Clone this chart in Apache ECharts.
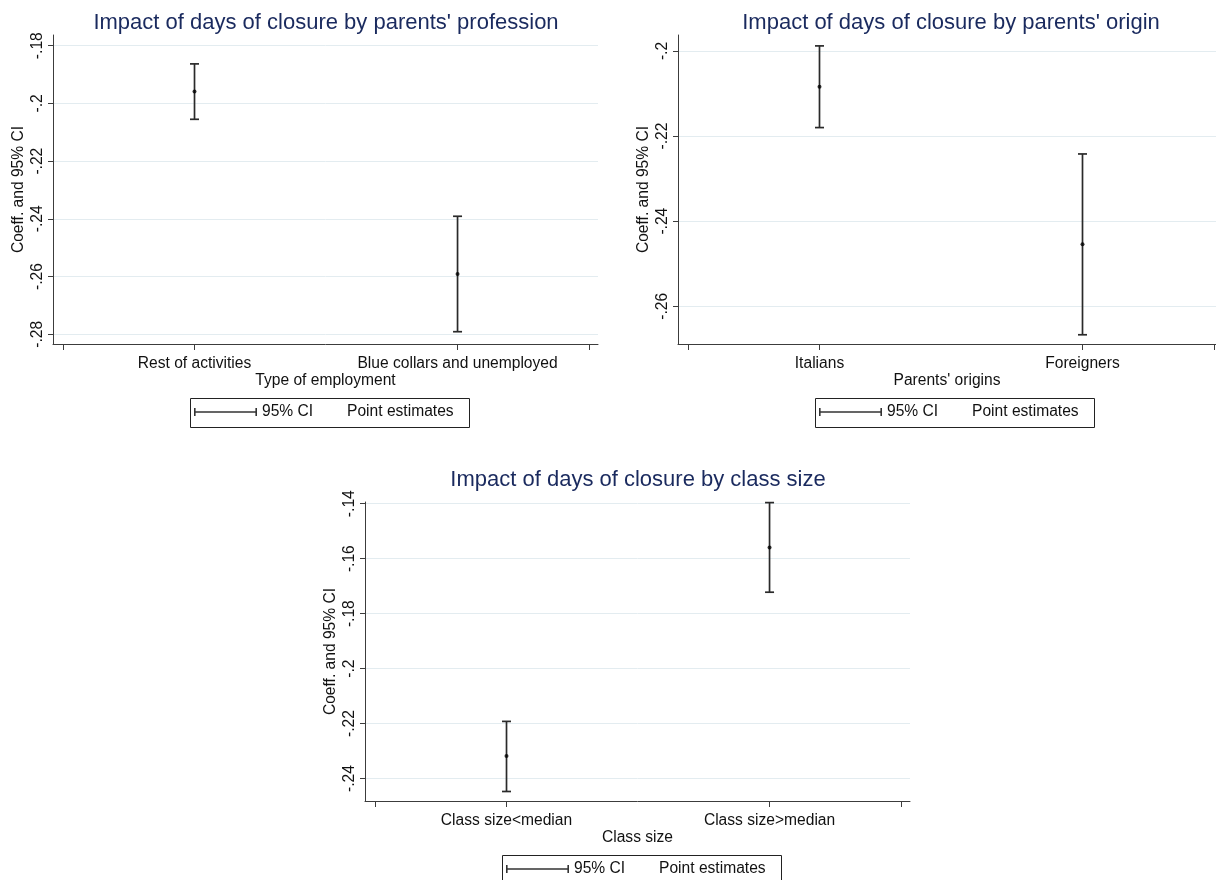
<!DOCTYPE html>
<html>
<head>
<meta charset="utf-8">
<script src="https://cdn.jsdelivr.net/npm/echarts@6/dist/echarts.min.js"></script>
<style>html,body{margin:0;padding:0;background:#fff}#c{width:1216px;height:880px}</style>
</head>
<body>
<div id="c"></div>
<script>
// ---- data ----
const profCats = ['Rest of activities', 'Blue collars and unemployed'];
const profEst = [-0.1959, -0.2591];
const profLo = [-0.2055, -0.2791];
const profHi = [-0.1863, -0.2391];

const originCats = ['Italians', 'Foreigners'];
const originEst = [-0.2084, -0.2454];
const originLo = [-0.2180, -0.2667];
const originHi = [-0.1988, -0.2242];

const classCats = ['Class size<median', 'Class size>median'];
const classEst = [-0.2318, -0.1559];
const classLo = [-0.2447, -0.1722];
const classHi = [-0.2192, -0.1396];

const profTicks = [-0.28, -0.26, -0.24, -0.22, -0.2, -0.18];
const originTicks = [-0.26, -0.24, -0.22, -0.2];
const classTicks = [-0.24, -0.22, -0.2, -0.18, -0.16, -0.14];
const catPos = [1, 2];
const xTickPos = [0.5, 1, 2, 2.5];

const titles = ["Impact of days of closure by parents' profession", "Impact of days of closure by parents' origin", "Impact of days of closure by class size"];
const xNames = ['Type of employment', "Parents' origins", 'Class size'];
const yName = 'Coeff. and 95% CI';

// ---- layout ----
const FONT = '"Liberation Sans", Arial, sans-serif';
const FS = 15.6;
const AX = '#3c3c3c';
const panels = [
  {left: 53, top: 35, width: 545, height: 309, xmax: 2.534, ymin: -0.28336, ymax: -0.17629, ticks: profTicks, cats: profCats, est: profEst, lo: profLo, hi: profHi},
  {left: 678, top: 35, width: 538, height: 309, xmax: 2.5076, ymin: -0.26887, ymax: -0.19624, ticks: originTicks, cats: originCats, est: originEst, lo: originLo, hi: originHi},
  {left: 365, top: 502, width: 545, height: 299, xmax: 2.534, ymin: -0.24816, ymax: -0.13938, ticks: classTicks, cats: classCats, est: classEst, lo: classLo, hi: classHi}
];
const dxs = [0, 625, 312];
const dys = [0, 0, 457];

const fmtY = v => String(+(+v).toFixed(2)).replace('0.', '.');

function renderCI(params, api) {
  const x = api.value(0), lo = api.value(1), hi = api.value(2);
  const a = api.coord([x, lo]), b = api.coord([x, hi]);
  const cap = 4.5;
  const st = {stroke: '#2a2a2a', lineWidth: 1.7};
  return {type: 'group', children: [
    {type: 'line', shape: {x1: a[0], y1: a[1], x2: b[0], y2: b[1]}, style: st},
    {type: 'line', shape: {x1: a[0] - cap, y1: a[1], x2: a[0] + cap, y2: a[1]}, style: st},
    {type: 'line', shape: {x1: b[0] - cap, y1: b[1], x2: b[0] + cap, y2: b[1]}, style: st}
  ]};
}

const ciIcon = 'path://M0,0h1.6v8h-1.6z M0,3.2h63v1.6h-63z M61.4,0h1.6v8h-1.6z';

const option = {
  backgroundColor: '#fff',
  animation: false,
  title: [], grid: [], xAxis: [], yAxis: [], series: [], legend: [], graphic: []
};

const titleCenters = [326, 951, 638];
const titleTops = [12, 12, 469];

panels.forEach((p, i) => {
  option.title.push({
    text: titles[i], left: titleCenters[i], top: titleTops[i], textAlign: 'center', padding: 0,
    textStyle: {fontFamily: FONT, fontSize: 22, fontWeight: 'normal', color: '#1a2a5e'}
  });
  option.grid.push({left: p.left, top: p.top, width: p.width, height: p.height, containLabel: false});
  option.xAxis.push({
    type: 'value', gridIndex: i, min: 0.462, max: p.xmax,
    name: xNames[i], nameLocation: 'middle', nameGap: 28,
    nameTextStyle: {fontFamily: FONT, fontSize: FS, color: '#111'},
    axisLine: {show: true, onZero: false, lineStyle: {color: AX, width: 1}},
    axisTick: {show: true, length: 6, customValues: xTickPos, lineStyle: {color: AX}},
    axisLabel: {customValues: catPos, margin: 12, fontFamily: FONT, fontSize: FS, color: '#111',
      formatter: v => p.cats[Math.round(v) - 1]},
    splitLine: {show: false}
  });
  option.yAxis.push({
    type: 'value', gridIndex: i, min: p.ymin, max: p.ymax,
    name: yName, nameLocation: 'middle', nameGap: 26,
    nameTextStyle: {fontFamily: FONT, fontSize: FS, color: '#111'},
    axisLine: {show: true, onZero: false, lineStyle: {color: AX, width: 1}},
    axisTick: {show: true, length: 5, customValues: p.ticks, lineStyle: {color: AX}},
    axisLabel: {customValues: p.ticks, rotate: 90, margin: 7, fontFamily: FONT, fontSize: FS, color: '#111', formatter: fmtY},
    splitLine: {show: true, lineStyle: {color: '#e3ecf0', width: 1}}
  });
  option.series.push({
    name: '95% CI', type: 'custom', xAxisIndex: i, yAxisIndex: i,
    renderItem: renderCI, encode: {x: 0, y: [1, 2]}, clip: false,
    itemStyle: {color: '#333'},
    data: catPos.map((c, k) => [c, p.lo[k], p.hi[k]])
  });
  option.series.push({
    name: 'Point estimates', type: 'scatter', xAxisIndex: i, yAxisIndex: i,
    symbol: 'circle', symbolSize: 4, itemStyle: {color: '#000'},
    data: catPos.map((c, k) => [c, p.est[k]])
  });
  const dx = dxs[i], dy = dys[i];
  option.graphic.push({
    type: 'rect', left: 188 + dx, top: 396 + dy, silent: true,
    shape: {width: 279, height: 29}, style: {fill: 'none', stroke: '#222', lineWidth: 1}
  });
  option.legend.push({
    data: [{name: '95% CI', icon: ciIcon}], left: 194 + dx, top: 404 + dy, padding: 0,
    itemWidth: 63, itemHeight: 8, selectedMode: false,
    itemStyle: {color: '#333'},
    textStyle: {fontFamily: FONT, fontSize: FS, color: '#111'}
  });
  option.legend.push({
    data: [{name: 'Point estimates', icon: 'circle'}], left: 340 + dx, top: 404 + dy, padding: 0,
    itemWidth: 2, itemHeight: 2, selectedMode: false,
    itemStyle: {color: 'rgba(0,0,0,0)'},
    textStyle: {fontFamily: FONT, fontSize: FS, color: '#111'}
  });
});

const chart = echarts.init(document.getElementById('c'), null, {renderer: 'canvas'});
chart.setOption(option);
</script>
</body>
</html>
